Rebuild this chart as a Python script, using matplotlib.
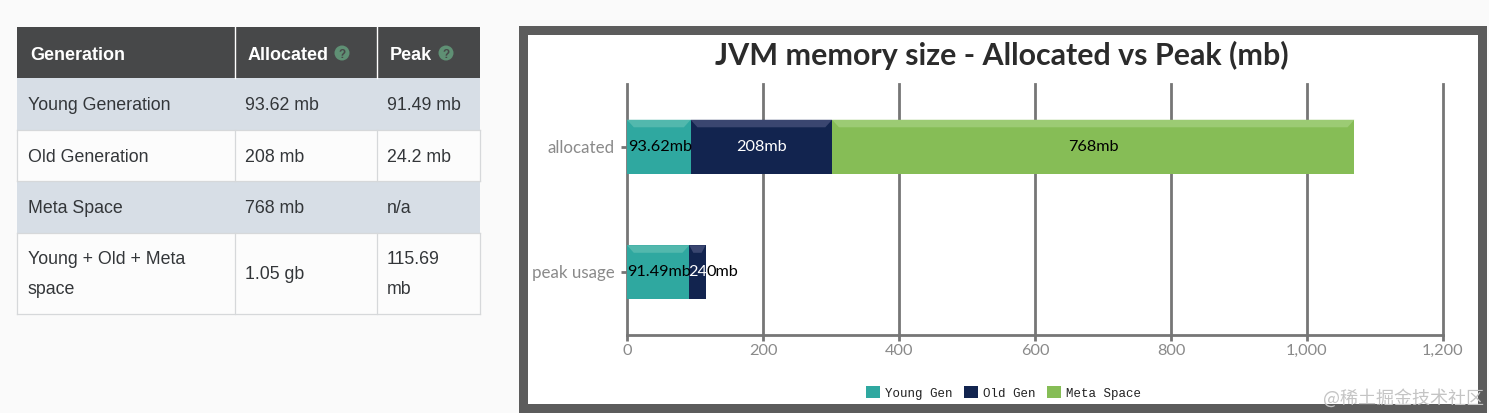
import matplotlib
matplotlib.use("Agg")
import matplotlib.pyplot as plt
from matplotlib.patches import Rectangle, Polygon, Circle
from matplotlib.transforms import ScaledTranslation

# table content
table_header = ["Generation", "Allocated", "Peak"]
table_rows = [
    ["Young Generation", "93.62 mb", "91.49 mb"],
    ["Old Generation", "208 mb", "24.2 mb"],
    ["Meta Space", "768 mb", "n/a"],
    ["Young + Old + Meta\nspace", "1.05 gb", "115.69\nmb"],
]

# chart data
categories = ["allocated", "peak usage"]
series_names = ["Young Gen", "Old Gen", "Meta Space"]
young = [93.62, 91.49]
old = [208, 24.2]
meta = [768, 0]
young_labels = ["93.62mb", "91.49mb"]
old_labels = ["208mb", "240mb"]
meta_labels = ["768mb", ""]
x_ticks = [0, 200, 400, 600, 800, 1000, 1200]
x_tick_labels = ["0", "200", "400", "600", "800", "1,000", "1,200"]

W, H = 1489, 414
fig = plt.figure(figsize=(W / 100, H / 100), dpi=100, facecolor="#fafafa")

# page layer in pixel coordinates
bg = fig.add_axes([0, 0, 1, 1], zorder=0)
bg.set_xlim(0, W)
bg.set_ylim(H, 0)
bg.axis("off")

# table
col_x = [17, 234.5, 376.5, 479.5]
row_y = [28, 79, 131, 182, 234, 315]
text_x = [27.5, 245, 387]
head_x = [30, 248, 390]
line_col = "#d6d8da"
body_font = ["Liberation Sans"]

bg.add_patch(Rectangle((col_x[0], row_y[0]), col_x[3] - col_x[0], row_y[1] - row_y[0], color="#474849", lw=0))
for i, (name, x) in enumerate(zip(table_header, head_x)):
    bg.text(x, 55, name, color="white", fontsize=13, fontweight="bold", family=body_font, va="center")
    if i > 0:
        bg.plot([col_x[i], col_x[i]], [row_y[0], row_y[1]], color="white", lw=1)
        icon_x = {1: 342, 2: 446}[i]
        bg.add_patch(Circle((icon_x, 54), 7.5, color="#5f9074", lw=0))
        bg.text(icon_x, 54.5, "?", color="#474849", fontsize=8.5, fontweight="bold", family=body_font, ha="center", va="center")

for r, row in enumerate(table_rows):
    top, bottom = row_y[r + 1], row_y[r + 2]
    shade = "#d7dee6" if r % 2 == 0 else "#fcfcfc"
    bg.add_patch(Rectangle((col_x[0], top), col_x[3] - col_x[0], bottom - top, color=shade, lw=0))
    mid = (top + bottom) / 2
    for c, val in enumerate(row):
        multi = "\n" in val
        bg.text(text_x[c], mid + (0 if multi or r == 3 else 1), val, color="#333639", fontsize=12.8,
                family=body_font, va="center", linespacing=2.0)
    if r % 2 == 1:
        for x in col_x:
            bg.plot([x, x], [top, bottom], color=line_col, lw=0.9)
    bg.plot([col_x[0], col_x[3]], [bottom, bottom], color=line_col, lw=0.9)

# chart frame
bg.add_patch(Rectangle((519, 27), 968, 387, color="#5c5c5c", lw=0))
bg.add_patch(Rectangle((528, 36), 950, 369, color="white", lw=0))
bg.text(1002, 55, "JVM memory size - Allocated vs Peak (mb)", color="#2b2b2b", fontsize=21.9,
        fontweight="bold", family=["Lato"], ha="center", va="center")

# chart
ax = fig.add_axes([627 / W, 1 - 336 / H, 816 / W, 251 / H], zorder=1)
ax.patch.set_alpha(0)
ax.set_xlim(0, 1200)
ax.set_ylim(1.5, -0.5)
ax.set_axisbelow(True)
ax.grid(axis="x", color="#767676", lw=2, clip_on=False)
for s in ["top", "right", "left"]:
    ax.spines[s].set_visible(False)
ax.spines["bottom"].set_color("#767676")
ax.spines["bottom"].set_linewidth(2)

ypos = list(range(len(categories)))
bar_h = 0.43
label_size = 11.7
colors = ["#2fa8a0", "#12244f", "#86bd56"]
top_colors = ["#52b8ad", "#3a4670", "#9ccb74"]
lefts = [0, 0]
handles = []
stack = [(young, young_labels, "black"), (old, old_labels, "white"), (meta, meta_labels, "black")]
for k, (vals, labels, txt) in enumerate(stack):
    bars = ax.barh(ypos, vals, left=lefts, height=bar_h, color=colors[k], lw=0, label=series_names[k], zorder=3)
    handles.append(bars)
    for y, v, l, lab in zip(ypos, vals, lefts, labels):
        if v == 0:
            continue
        # bevel strip along the top of the segment
        inset = min(10, v / 4)
        ytop = y - bar_h / 2
        ax.add_patch(Polygon([(l, ytop), (l + v, ytop), (l + v - inset, ytop + 0.06), (l + inset, ytop + 0.06)],
                             color=top_colors[k], lw=0, zorder=4))
        cx = l + v / 2
        if lab == "240mb":
            # this label spills out of its bar: white inside, black past the edge
            edge = l + v + 1.5
            ax.text(edge, y - 0.012, lab[:2], fontsize=label_size, family=["Lato"], ha="right", va="center", color="white", zorder=6)
            ax.text(edge, y - 0.012, lab[2:], fontsize=label_size, family=["Lato"], ha="left", va="center", color="black", zorder=5)
        else:
            ax.text(cx + (1.5 if k == 0 else 0), y - 0.008, lab, fontsize=label_size, family=["Lato"], ha="center", va="center", color=txt, zorder=5)
    lefts = [a + b for a, b in zip(lefts, vals)]

ax.set_yticks(ypos, categories, family=["Lato"], fontsize=12.2, color="#8a8a8a")
ax.set_xticks(x_ticks, x_tick_labels, family=["Lato"], fontsize=11.8, color="#8a8a8a")
ax.tick_params(axis="y", length=4, width=2, color="#767676", pad=5)
ax.tick_params(axis="x", length=4, width=2, color="#767676", pad=2)
# nudge the category labels up a little
for tl in ax.get_yticklabels():
    tl.set_transform(tl.get_transform() + ScaledTranslation(0, 1.5 / 100, fig.dpi_scale_trans))

leg = ax.legend(handles=handles, loc="center", bbox_to_anchor=(0.4615, -0.2285), ncol=3, frameon=False,
                prop={"family": "Liberation Mono", "size": 9.0}, handlelength=1.1, handleheight=1.1,
                handletextpad=0.45, columnspacing=0.9, labelcolor="#222222")

# watermark
fig.text(1484 / W, 1 - 398 / H, "@稀土掘金技术社区", color="#c4c4c4", fontsize=13,
         family=["Noto Sans CJK SC", "DejaVu Sans"], ha="right", va="center", zorder=5)

fig.savefig("out.png", dpi=100, facecolor=fig.get_facecolor())
